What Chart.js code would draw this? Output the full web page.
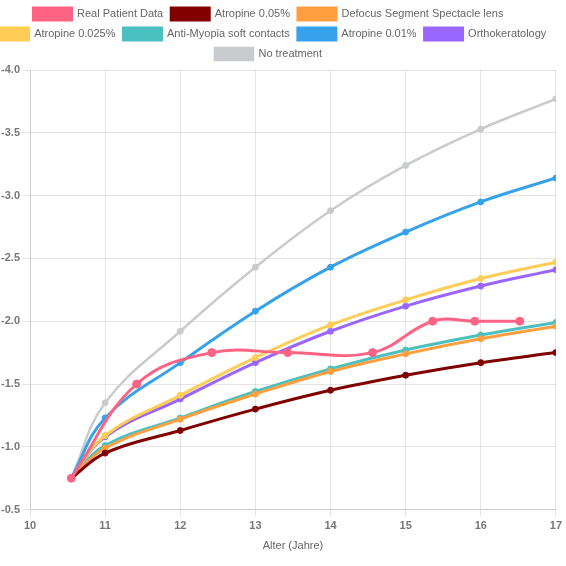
<!DOCTYPE html>
<html>
<head>
<meta charset="utf-8">
<script src="https://cdn.jsdelivr.net/npm/chart.js@4"></script>
<style>
  html, body { margin: 0; padding: 0; background: #fff; overflow: hidden; }
  #wrap { position: absolute; left: -28px; top: 0; width: 593px; height: 557px; }
</style>
</head>
<body>
<div id="wrap"><canvas id="chart" width="593" height="557"></canvas></div>
<script>
// values (dioptres, age in years)

const ages = [10.55, 11, 12, 13, 14, 15, 16, 17];
const patientAges = [10.55, 11.42, 12.42, 13.43, 14.56, 15.36, 15.92, 16.52];
const patientValues = [-0.75, -1.5, -1.75, -1.75, -1.75, -2.0, -2.0, -2.0];

const atropine005 = [-0.75, -0.95, -1.13, -1.30, -1.45, -1.57, -1.67, -1.75];
const defocusLens = [-0.75, -0.99, -1.22, -1.42, -1.60, -1.74, -1.86, -1.96];
const atropine0025 = [-0.75, -1.09, -1.41, -1.71, -1.97, -2.17, -2.34, -2.47];
const softContacts = [-0.75, -1.01, -1.23, -1.44, -1.62, -1.77, -1.89, -1.99];
const atropine001 = [-0.75, -1.23, -1.67, -2.08, -2.43, -2.71, -2.95, -3.14];
const orthoK = [-0.75, -1.08, -1.38, -1.67, -1.92, -2.12, -2.28, -2.41];
const noTreatment = [-0.75, -1.35, -1.92, -2.43, -2.88, -3.24, -3.53, -3.77];

const xTicks = [10, 11, 12, 13, 14, 15, 16, 17];

const Y_AXIS_W = 58; // keeps plot left edge where the original has it

const pts = (xs, ys) => ys.map((y, i) => ({x: xs[i], y}));

const series = (label, xs, ys, color, extra = {}) => Object.assign({
    label,
    data: pts(xs, ys),
    borderColor: color,
    backgroundColor: color,
    pointBackgroundColor: color,
    pointBorderColor: color,
    borderWidth: 3,
    pointBorderWidth: 1,
    pointRadius: 3,
    tension: 0.4,
    fill: false
}, extra);

const datasets = [
    series("Real Patient Data", patientAges, patientValues, "rgb(255,99,132)", {pointRadius: 4}),
    series("Atropine 0.05%", ages, atropine005, "#800000"),
    series("Defocus Segment Spectacle lens", ages, defocusLens, "rgb(255,159,64)"),
    series("Atropine 0.025%", ages, atropine0025, "rgb(255,205,86)"),
    series("Anti-Myopia soft contacts", ages, softContacts, "rgb(75,192,192)"),
    series("Atropine 0.01%", ages, atropine001, "rgb(54,162,235)"),
    series("Orthokeratology", ages, orthoK, "rgb(153,102,255)"),
    series("No treatment", ages, noTreatment, "rgb(201,203,207)", {borderWidth: 2.5})
];

Chart.defaults.font.family = "Arial, 'Liberation Sans', sans-serif";
Chart.defaults.color = "#666";

const ctx = document.getElementById("chart").getContext("2d");
const chart = new Chart(ctx, {
    type: "line",
    data: {datasets},
    options: {
        responsive: false,
        animation: false,
        devicePixelRatio: 1,
        layout: {padding: 0},
        plugins: {
            legend: {
                position: "top",
                labels: {
                    font: {size: 11},
                    boxWidth: 38,
                    boxHeight: 12,
                    padding: 8
                }
            },
            tooltip: {enabled: false}
        },
        scales: {
            x: {
                type: "linear",
                min: 10,
                max: 17,
                afterBuildTicks: (axis) => { axis.ticks = xTicks.map(v => ({value: v})); },
                ticks: {font: {size: 11, weight: "bold"}, color: "#777"},
                grid: {tickLength: 7},
                title: {display: true, text: "Alter (Jahre)", font: {size: 11}, color: "#666"}
            },
            y: {
                type: "linear",
                reverse: true,
                min: -4.0,
                max: -0.5,
                afterFit: (axis) => { axis.width = Y_AXIS_W; },
                ticks: {
                    stepSize: 0.5,
                    padding: 2,
                    font: {size: 11, weight: "bold"},
                    color: "#777",
                    callback: (v) => v.toFixed(1)
                }
            }
        }
    }
});
</script>
</body>
</html>
